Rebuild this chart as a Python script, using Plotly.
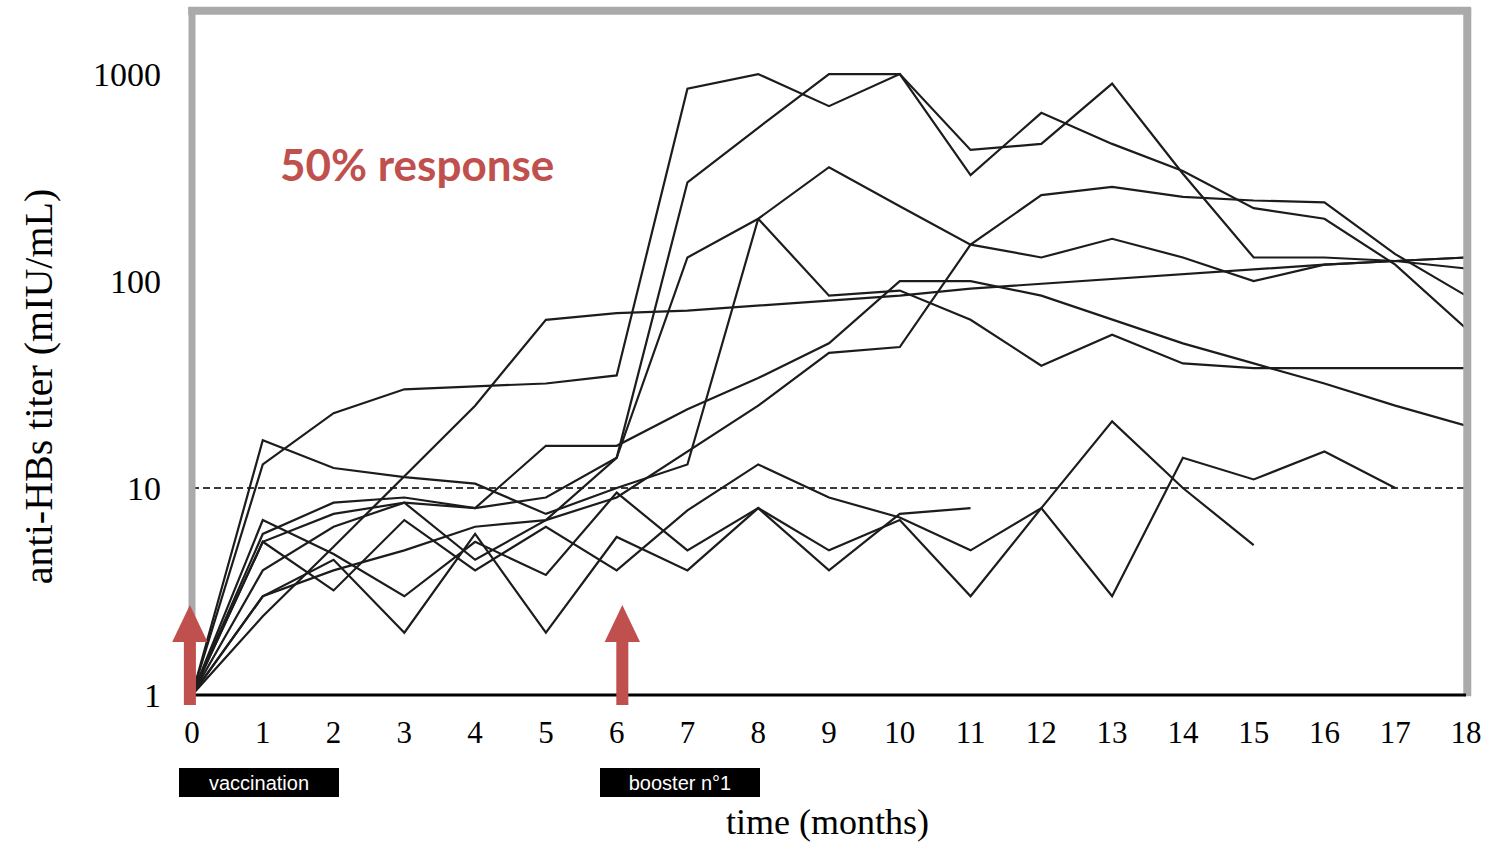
import plotly.graph_objects as go

# ---------------- data ----------------
months = list(range(19))
tick_months = list(range(19))
y_ticks = [1, 10, 100, 1000]

titer_a = [1, 13, 23, 30, 31, 32, 35, 850, 1000, 700, 1000, 430, 460, 900, 330, 130, 130, 125, 130]
titer_b = [1, 5.5, 7.5, 8.5, 4.5, 7, 14, 300, 550, 1000, 1000, 325, 650, 460, 340, 225, 200, 120, 59]
titer_c = [1, 2.4, 5.2, 11.4, 25, 65, 70, 72, 76, 80, 85, 92, 97, 102, 108, 113, 120, 125, 130]
titer_d = [1, 6, 8.5, 9, 8, 9, 14, 130, 200, 355, 230, 150, 130, 160, 130, 100, 120, 125, 115]
titer_e = [1, 17, 12.5, 11.3, 10.5, 7.5, 10, 13, 200, 85, 90, 65, 39, 55, 40, 38, 38, 38, 38]
titer_f = [1, 4, 6.5, 8.5, 8, 16, 16, 24, 34, 50, 100, 100, 85, 65, 50, 40, 32, 25, 20]
titer_g = [1, 3, 4, 5, 6.5, 7, 9, 15, 25, 45, 48, 150, 260, 285, 255, 245, 240, 135, 85]
titer_h = [1, 5.5, 3.2, 7, 4, 6.5, 4.0, 7.8, 13, 9, 7.2, 5, 8, 3, 14, 11, 15, 10]
titer_i = [1, 7, 4.8, 3, 5.5, 3.8, 9.5, 5, 8, 5, 7, 3, 8, 21, 10, 5.3]
titer_j = [1, 3, 4.5, 2.0, 6, 2.0, 5.8, 4, 8, 4, 7.5, 8]

protective_level = 10
dose_months = [-0.03, 6.08]
dose_labels = ["vaccination", "booster n°1"]
response_text = "50% response"
x_title = "time (months)"
y_title = "anti-HBs titer (mIU/mL)"

all_series = [titer_a, titer_b, titer_c, titer_d, titer_e, titer_f,
              titer_g, titer_h, titer_i, titer_j]

x_range = [0, 18]

# ---------------- figure ----------------
fig = go.Figure()

fig.add_trace(go.Scatter(
    x=[months[0], months[-1]], y=[protective_level, protective_level],
    mode="lines", line=dict(color="#3a3a3a", width=2, dash="7px,4px"),
    hoverinfo="skip", showlegend=False))

for s in all_series:
    fig.add_trace(go.Scatter(
        x=months[:len(s)], y=s, mode="lines",
        line=dict(color="#1c1c1c", width=2.2),
        showlegend=False))

RED = "#C0504D"
GRAY = "#aaaaaa"

shapes = [
    # gray frame: top, left, right
    dict(type="line", xref="paper", yref="paper", x0=-0.003, x1=1.004, y0=1.002, y1=1.002,
         line=dict(color=GRAY, width=8), layer="above"),
    dict(type="line", xref="paper", yref="paper", x0=0, x1=0, y0=0, y1=1.006,
         line=dict(color=GRAY, width=7), layer="above"),
    dict(type="line", xref="paper", yref="paper", x0=1.001, x1=1.001, y0=-0.002, y1=1.006,
         line=dict(color=GRAY, width=8), layer="above"),
    # black x axis line
    dict(type="line", xref="paper", yref="paper", x0=0, x1=1.0, y0=0, y1=0,
         line=dict(color="black", width=3), layer="above"),
]

# red arrows marking the doses (paper coordinates derived from the x range)
span = x_range[1] - x_range[0]
hw_head, hw_shaft = 0.25 / span, 0.085 / span
y_tip, y_base, y_bot = 0.1318, 0.0776, -0.0146
for m in dose_months:
    c = (m - x_range[0]) / span
    path = (f"M {c - hw_shaft},{y_bot} L {c - hw_shaft},{y_base} L {c - hw_head},{y_base} "
            f"L {c},{y_tip} L {c + hw_head},{y_base} L {c + hw_shaft},{y_base} "
            f"L {c + hw_shaft},{y_bot} Z")
    shapes.append(dict(type="path", xref="paper", yref="paper", path=path,
                       fillcolor=RED, line=dict(width=0), layer="above"))

annotations = [
    dict(text=response_text, xref="paper", yref="paper", x=0.177, y=0.778,
         showarrow=False, xanchor="center", yanchor="middle",
         font=dict(family="Lato", size=44, color=RED, weight="bold")),
    dict(text=y_title, xref="paper", yref="paper", x=-0.121, y=0.452,
         showarrow=False, xanchor="center", yanchor="middle", textangle=-90,
         font=dict(family="Liberation Serif", size=40, color="black")),
    dict(text=x_title, xref="paper", yref="paper", x=0.499, y=-0.1865,
         showarrow=False, xanchor="center", yanchor="middle",
         font=dict(family="Liberation Serif", size=36, color="black")),
]
box_x = [0.0526, 0.383]
for bx, lbl in zip(box_x, dose_labels):
    annotations.append(dict(
        text=lbl, xref="paper", yref="paper", x=bx, y=-0.1288,
        showarrow=False, xanchor="center", yanchor="middle",
        width=156, height=25, bgcolor="black", bordercolor="black",
        borderwidth=2, borderpad=0,
        font=dict(family="Liberation Sans Narrow, Liberation Sans", size=20, color="white")))

fig.update_layout(
    width=1493, height=846,
    margin=dict(l=192, r=27, t=12, b=151),
    paper_bgcolor="white", plot_bgcolor="white",
    shapes=shapes, annotations=annotations,
    xaxis=dict(
        range=x_range, tickmode="array", tickvals=tick_months,
        ticktext=[str(t) for t in tick_months],
        showgrid=False, zeroline=False, showline=False, ticks="",
        ticklabelstandoff=16,
        tickfont=dict(family="Liberation Serif", size=31, color="black"),
    ),
    yaxis=dict(
        type="log", range=[0, 3.3], tickmode="array", tickvals=y_ticks,
        ticktext=[str(t) for t in y_ticks],
        showgrid=False, zeroline=False, showline=False, ticks="",
        ticklabelstandoff=30,
        tickfont=dict(family="Liberation Serif", size=34, color="black"),
    ),
)

fig.write_html("out.html")
